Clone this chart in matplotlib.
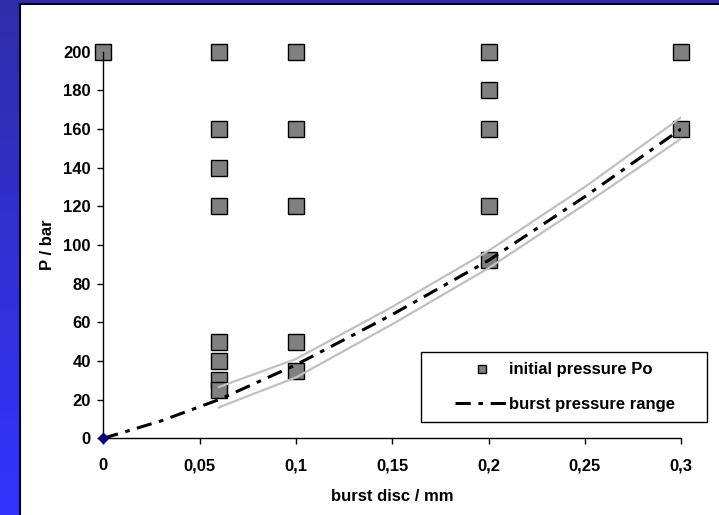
import numpy as np
import matplotlib
matplotlib.use('Agg')
import matplotlib.pyplot as plt
from matplotlib.patches import Rectangle

plt.rcParams['font.family'] = ['Liberation Sans', 'DejaVu Sans']
plt.rcParams['font.weight'] = 'bold'

# initial pressure Po (measured points)
disc_mm = [0, 0.06, 0.06, 0.06, 0.06, 0.06, 0.06, 0.06, 0.06,
           0.1, 0.1, 0.1, 0.1, 0.1,
           0.2, 0.2, 0.2, 0.2, 0.2,
           0.3, 0.3]
p0_bar = [200, 200, 160, 140, 120, 50, 40, 30, 25,
          200, 160, 120, 50, 35,
          200, 180, 160, 120, 92,
          200, 160]

# burst pressure curve
burst_x = [0, 0.03, 0.06, 0.1, 0.15, 0.2, 0.25, 0.3]
burst_p = [0, 9, 20, 38, 64, 92, 125, 160]

# upper / lower limits of the burst range
range_x = [0.06, 0.1, 0.15, 0.2, 0.25, 0.3]
upper_p = [26.5, 41, 68, 97, 130, 166]
lower_p = [16, 31.5, 59, 88, 121, 155]

xticks = [0, 0.05, 0.1, 0.15, 0.2, 0.25, 0.3]
xticklabels = ['0', '0,05', '0,1', '0,15', '0,2', '0,25', '0,3']
yticks = list(range(0, 201, 20))

fig = plt.figure(figsize=(7.19, 5.15), dpi=100)

# slide background: blue band on the left and top, white panel
bg = fig.add_axes([0, 0, 1, 1], zorder=-10)
grad = np.linspace(0, 1, 256).reshape(-1, 1)
top_c = np.array([0.18, 0.18, 0.66])
bot_c = np.array([0.20, 0.20, 1.00])
img = top_c + (bot_c - top_c) * grad[:, :, None]
bg.imshow(img, aspect='auto', extent=[0, 1, 0, 1], origin='upper')
bg.add_patch(Rectangle((20 / 719, -0.1), 1.1, 1.1 - 4 / 515, facecolor='white',
                       edgecolor='black', linewidth=1.5))
bg.set_xlim(0, 1)
bg.set_ylim(0, 1)
bg.axis('off')

ax = fig.add_axes([103.3 / 719, 1 - 438.3 / 515, 577.8 / 719, 386.6 / 515])
ax.set_facecolor('none')

ax.plot(disc_mm, p0_bar, linestyle='none', marker='s', markersize=12,
        markerfacecolor='#808080', markeredgecolor='black', markeredgewidth=1,
        clip_on=False, zorder=2, label='initial pressure Po')
ax.plot(range_x, upper_p, color='#c0c0c0', linewidth=1.6, zorder=3)
ax.plot(range_x, lower_p, color='#c0c0c0', linewidth=1.6, zorder=3)
ax.plot(burst_x, burst_p, color='black', linewidth=2.2,
        linestyle=(0, (5, 2.5, 1.5, 2.5)), zorder=4, label='burst pressure range')
ax.plot([0], [0], marker='D', markersize=5, color='#000080', clip_on=False, zorder=5)

ax.set_xlim(0, 0.3)
ax.set_ylim(0, 200)
ax.set_xticks(xticks)
ax.set_xticklabels(xticklabels)
ax.set_yticks(yticks)
for s in ['top', 'right']:
    ax.spines[s].set_visible(False)
for s in ['left', 'bottom']:
    ax.spines[s].set_linewidth(1)
ax.tick_params(axis='both', labelsize=12, length=4.5, width=1, direction='out')
ax.tick_params(axis='x', pad=10)
ax.tick_params(axis='y', pad=4.5)
ax.set_xlabel('burst disc / mm', fontsize=12, fontweight='bold', labelpad=11)
ax.set_ylabel('P / bar', fontsize=12, fontweight='bold', labelpad=6)

# legend frame and legend
ax.add_patch(Rectangle((0.549, 0.041), 0.496, 0.183, transform=ax.transAxes,
                       facecolor='white', edgecolor='black', linewidth=1,
                       clip_on=False, zorder=6))
leg = ax.legend(loc='center left', bbox_to_anchor=(0.609, 0.1327), frameon=False,
                fontsize=12, borderpad=0, handlelength=3.2, handletextpad=0.05,
                labelspacing=1.15, markerscale=0.5, borderaxespad=0)
leg.set_zorder(7)

fig.savefig('out.png', dpi=100)
